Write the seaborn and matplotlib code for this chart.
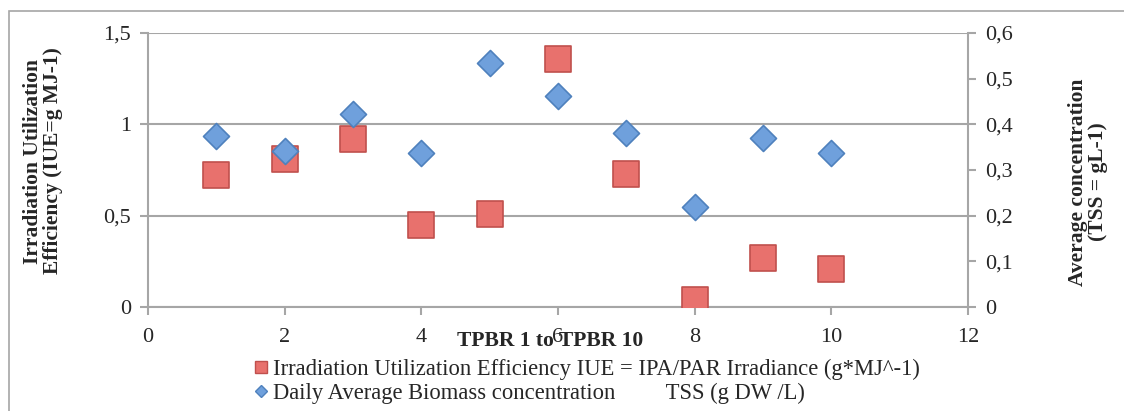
import matplotlib
matplotlib.use("Agg")
import matplotlib.pyplot as plt
import seaborn as sns
import pandas as pd
import numpy as np
from matplotlib.ticker import FuncFormatter, MultipleLocator
from matplotlib.lines import Line2D
from matplotlib.patches import Rectangle

tpbr = [1, 2, 3, 4, 5, 6, 7, 8, 9, 10]
iue = [0.72, 0.81, 0.92, 0.45, 0.51, 1.36, 0.73, 0.04, 0.27, 0.21]
tss = [0.375, 0.342, 0.422, 0.337, 0.535, 0.461, 0.380, 0.220, 0.369, 0.337]

label_iue = "Irradiation Utilization Efficiency IUE = IPA/PAR Irradiance (g*MJ^-1)"
label_tss = "Daily Average Biomass concentration         TSS (g DW /L)"
xlabel = "TPBR 1 to TPBR 10"
ylabel_left = "Irradiation Utilization\nEfficiency (IUE=g MJ-1)"
ylabel_right = "Average concentration\n(TSS = gL-1)"

df = pd.DataFrame({"tpbr": tpbr, "iue": iue, "tss": tss})

sns.set_style("white")
plt.rcParams['font.family'] = ['Liberation Serif', 'DejaVu Serif']

red_face = "#E8716D"
red_edge = "#C0504D"
blue_face = "#6FA0DC"
blue_edge = "#4F81BD"
gray = "#A6A6A6"

fig = plt.figure(figsize=(11.24, 4.11), dpi=100)
ax = fig.add_axes([148/1124, 1-307/411, (968-148)/1124, (307-33)/411])
ax2 = ax.twinx()

sns.scatterplot(data=df, x="tpbr", y="iue", ax=ax, marker="s", s=350,
                color=red_face, edgecolor=red_edge, linewidth=1.2, zorder=3, legend=False)
sns.scatterplot(data=df, x="tpbr", y="tss", ax=ax2, marker="D", s=175,
                color=blue_face, edgecolor=blue_edge, linewidth=1.2, zorder=3, legend=False)

ax.set_zorder(ax2.get_zorder() - 1)
ax2.patch.set_visible(False)

ax.set_xlim(0, 12)
ax.set_ylim(0, 1.5)
ax2.set_ylim(0, 0.6)
ax.xaxis.set_major_locator(MultipleLocator(2))
ax.yaxis.set_major_locator(MultipleLocator(0.5))
ax2.yaxis.set_major_locator(MultipleLocator(0.1))

fmt = FuncFormatter(lambda v, p: ("%g" % round(v, 3)).replace(".", ","))
ax.yaxis.set_major_formatter(fmt)
ax2.yaxis.set_major_formatter(fmt)
ax.xaxis.set_major_formatter(FuncFormatter(lambda v, p: "%d" % v))

ax.grid(axis="y", color=gray, linewidth=1.5)
ax.set_axisbelow(True)

for a in (ax, ax2):
    a.spines["top"].set_visible(False)
    for side in ("left", "right", "bottom"):
        a.spines[side].set_color(gray)
        a.spines[side].set_linewidth(1.5)
ax.spines["right"].set_visible(False)
ax2.spines["left"].set_visible(False)
ax2.spines["bottom"].set_visible(False)

ax.tick_params(axis="both", direction="out", length=6, width=1.5, color=gray,
               labelsize=16, pad=6, left=True, bottom=True)
ax2.tick_params(axis="y", direction="out", length=6, width=1.5, color=gray,
                labelsize=16, pad=6, right=True)
ax.tick_params(axis="x", pad=9)

ax.set_xlabel("")
ax.set_ylabel("")
ax2.set_ylabel("")

fig.text(550/1124, 1-341/411, xlabel, ha="center", va="center", fontsize=15.5, fontweight="bold")
fig.text(43/1124, 1-161/411, ylabel_left, ha="center", va="center", rotation=90,
         fontsize=15.5, fontweight="bold", linespacing=1.05)
fig.text(1088/1124, 1-182/411, ylabel_right, ha="center", va="center", rotation=90,
         fontsize=15.5, fontweight="bold", linespacing=1.05)

handles = [
    Line2D([], [], linestyle="none", marker="s", markersize=8.5, markerfacecolor=red_face,
           markeredgecolor=red_edge, label=label_iue),
    Line2D([], [], linestyle="none", marker="D", markersize=6.5, markerfacecolor=blue_face,
           markeredgecolor=blue_edge, label=label_tss),
]
fig.legend(handles=handles, loc="upper left", bbox_to_anchor=(254/1124, 1-359/411),
           frameon=False, fontsize=16.3, handlelength=0.6, handletextpad=0.25,
           labelspacing=0.12, borderpad=0, borderaxespad=0)

fig.patches.append(Rectangle((9/1124, -0.05), 1.05, 1.05 - 11/411, transform=fig.transFigure,
                             fill=False, edgecolor=gray, linewidth=1.2))

fig.savefig("out.png", dpi=100)
